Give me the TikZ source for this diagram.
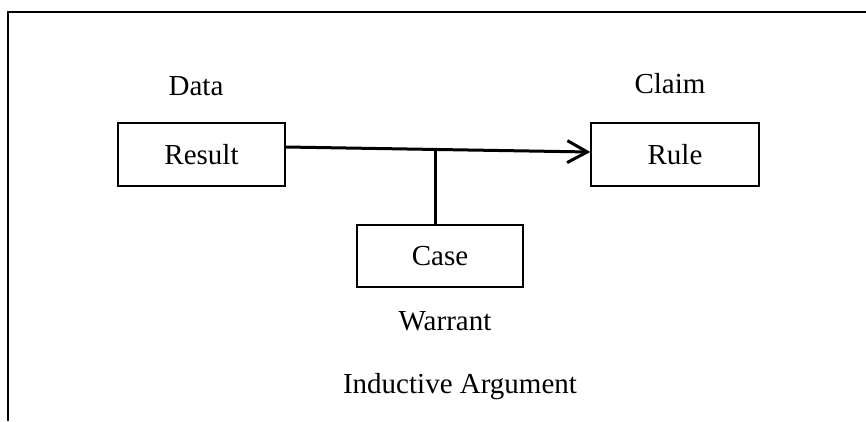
\documentclass[tikz,border=0pt]{standalone}
\usepackage{fontspec}
\setmainfont{Liberation Serif}
\usetikzlibrary{arrows.meta,calc}
\begin{document}
\begin{tikzpicture}[x=1pt,y=-1pt,
  box/.style={draw,line width=1.3pt,inner sep=0pt,font=\fontsize{29}{34}\selectfont},
  lbl/.style={inner sep=0pt,anchor=base,font=\fontsize{29}{34}\selectfont},
  conn/.style={line width=3pt}]
\useasboundingbox (0,0) rectangle (866,421);
\coordinate (fa) at (866,12);
\coordinate (fb) at (8,12);
\coordinate (fc) at (8,421);
\draw[line width=2pt] (fa) -- (fb) -- (fc);
\node[box,minimum width=167pt,minimum height=63pt] (result) at (201.5,154.5) {Result};
\node[box,minimum width=168pt,minimum height=63pt] (rule) at (675,154.5) {Rule};
\node[box,minimum width=166pt,minimum height=62pt] (case) at (440,256) {Case};
\node[lbl] (data) at (196,95) {Data};
\node[lbl] (claim) at (670,93) {Claim};
\node[lbl] (warrant) at (445,330) {Warrant};
\node[lbl] (title) at (460,393) {Inductive Argument};
\coordinate (as) at ([yshift=7.5pt]result.east);
\coordinate (ae) at ([yshift=2.5pt]rule.west);
\draw[conn,-{Straight Barb[length=20pt,width=22pt,line width=3pt]}] (as) -- (ae);
\coordinate (j) at ($(as)!0.493!(ae)$);
\draw[conn] (j) -- (j |- case.north);
\end{tikzpicture}
\end{document}
